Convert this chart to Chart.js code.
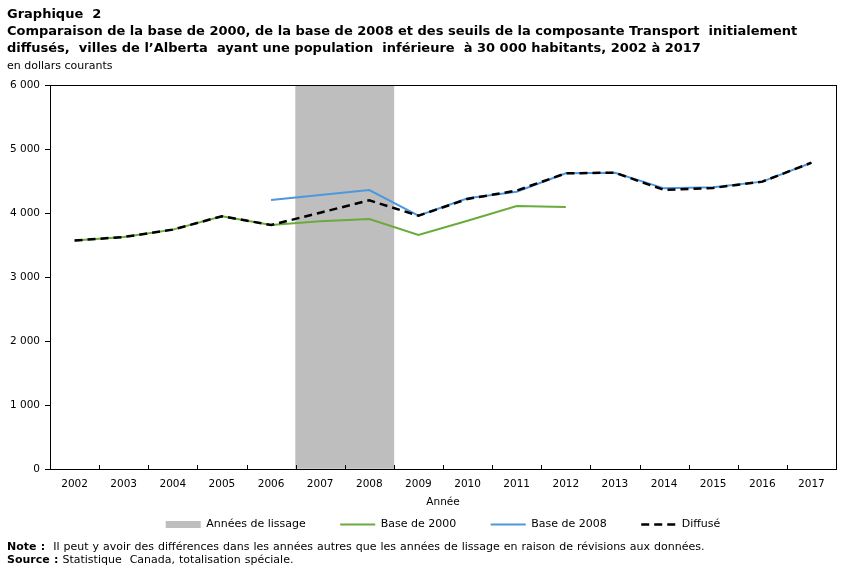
<!DOCTYPE html>
<html lang="fr">
<head>
<meta charset="utf-8">
<script src="https://cdn.jsdelivr.net/npm/chart.js@4/dist/chart.umd.min.js"></script>
<style>
  body { margin:0; background:#fff; }
  #wrap { position:relative; width:851px; height:567px; overflow:hidden; font-family:"DejaVu Sans", Verdana, sans-serif; color:#000; }
  #wrap canvas { position:absolute; left:0; top:0; }
  .title { position:absolute; left:7px; top:5px; font-size:13px; font-weight:bold; line-height:17px; white-space:pre; }
  .unit  { position:absolute; left:7px; top:59px; font-size:11px; }
  .notes { position:absolute; left:7px; top:540px; font-size:11px; line-height:13px; white-space:pre; word-spacing:0.5px; }
</style>
</head>
<body>
<div id="wrap">
  <canvas id="chart" width="851" height="567"></canvas>
  <div class="title">Graphique  2
Comparaison de la base de 2000, de la base de 2008 et des seuils de la composante Transport  initialement
diffusés,  villes de l’Alberta  ayant une population  inférieure  à 30 000 habitants, 2002 à 2017</div>
  <div class="unit">en dollars courants</div>
  <div class="notes"><b>Note :</b>  Il peut y avoir des différences dans les années autres que les années de lissage en raison de révisions aux données.
<b>Source :</b> Statistique  Canada, totalisation spéciale.</div>
</div>
<script>
const years = ["2002","2003","2004","2005","2006","2007","2008","2009","2010","2011","2012","2013","2014","2015","2016","2017"];
const smoothing = [null, null, null, null, null, 6000, 6000, null, null, null, null, null, null, null, null, null];
const base2000  = [3570, 3625, 3740, 3950, 3812, 3870, 3906, 3656, 3880, 4109, 4094, null, null, null, null, null];
const base2008  = [null, null, null, null, 4203, 4280, 4359, 3958, 4229, 4333, 4620, 4630, 4385, 4401, 4490, 4786];
const diffuse   = [3570, 3625, 3740, 3950, 3812, 4005, 4198, 3958, 4220, 4350, 4620, 4630, 4360, 4392, 4490, 4786];

const fmt = v => String(v).replace(/\B(?=(\d{3})+(?!\d))/g, " ");
const font = { family:"DejaVu Sans, Verdana, sans-serif", size:10.5 };
const legendFont = { family:"DejaVu Sans, Verdana, sans-serif", size:11 };

// cadre noir autour de la zone de tracé + petites graduations vers l'intérieur sur l'axe des x
const frame = {
  id: "frame",
  afterDatasetsDraw(chart) {
    const { ctx, chartArea:a, scales } = chart;
    const x = scales.x;
    ctx.save();
    ctx.strokeStyle = "#000";
    ctx.lineWidth = 1;
    ctx.strokeRect(Math.round(a.left) + 0.5, Math.round(a.top) + 0.5, Math.round(a.right - a.left), Math.round(a.bottom - a.top));
    ctx.beginPath();
    for (let i = 1; i < years.length; i++) {
      const px = Math.round((x.getPixelForTick(i - 1) + x.getPixelForTick(i)) / 2) + 0.5;
      ctx.moveTo(px, Math.round(a.bottom));
      ctx.lineTo(px, Math.round(a.bottom) - 4);
    }
    ctx.stroke();
    ctx.restore();
  }
};

new Chart(document.getElementById("chart"), {
  type: "bar",
  data: {
    labels: years,
    datasets: [
      { type:"bar", label:"Années de lissage", data:smoothing, backgroundColor:"#bebebe",
        barPercentage:1, categoryPercentage:1, order:10 },
      { type:"line", label:"Base de 2000", data:base2000, borderColor:"#6aab3c", backgroundColor:"#6aab3c",
        borderWidth:2, pointRadius:0, tension:0, order:3 },
      { type:"line", label:"Base de 2008", data:base2008, borderColor:"#4f97dc", backgroundColor:"#4f97dc",
        borderWidth:2, pointRadius:0, tension:0, order:2 },
      { type:"line", label:"Diffusé", data:diffuse, borderColor:"#000", backgroundColor:"#000",
        borderWidth:2.5, borderDash:[8,5], pointRadius:0, tension:0, order:1 },
    ],
  },
  options: {
    responsive: false,
    animation: false,
    layout: { padding: { top:85, left:0, right:15, bottom:27 } },
    plugins: {
      tooltip: { enabled:false },
      legend: {
        position: "bottom",
        fullSize: false,
        labels: {
          color: "#000", font: legendFont, usePointStyle: true, pointStyleWidth: 35, boxHeight: 7, padding: 10,
          generateLabels: (chart) => chart.data.datasets.map((ds, i, all) => ({
            text: ds.label + (i < all.length - 1 ? "       " : ""),
            fillStyle: ds.backgroundColor,
            strokeStyle: ds.type === "bar" ? ds.backgroundColor : ds.borderColor,
            lineWidth: ds.type === "bar" ? 0 : ds.borderWidth,
            lineDash: ds.borderDash || [],
            pointStyle: ds.type === "bar" ? "rect" : "line",
            datasetIndex: i,
          })),
        },
      },
    },
    scales: {
      x: {
        offset: true,
        grid: { display:true, offset:true, drawOnChartArea:false, color:"rgba(0,0,0,0)", tickLength:5 },
        border: { color:"#000" },
        ticks: { color:"#000", font, maxRotation:0, autoSkip:false, padding:4 },
        title: { display:true, text:"Année", color:"#000", font, padding:{ top:4, bottom:0 } },
        afterFit: s => { s.height = 40; },
      },
      y: {
        min: 0, max: 6000,
        grid: { display:true, drawOnChartArea:false, color:"#000", tickLength:5 },
        border: { color:"#000" },
        ticks: { stepSize:1000, color:"#000", font, padding:5, callback: v => fmt(v) },
        afterFit: s => { s.width = 50; },
      },
    },
  },
  plugins: [frame],
});
</script>
</body>
</html>
